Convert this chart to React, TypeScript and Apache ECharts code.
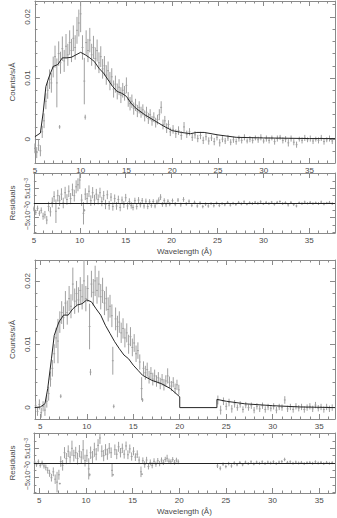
import React, { useEffect, useRef } from 'react';
import * as echarts from 'echarts';

// ---------- Panel 1 (upper spectrum) ----------
const wl1 = [5.0,5.2,5.4,5.6,5.8,6.0,6.2,6.4,6.6,6.8,7.0,7.2,7.4,7.6,7.7,7.8,8.0,8.2,8.4,8.6,8.8,9.0,9.2,9.4,9.6,9.8,10.0,10.2,10.4,10.5,10.6,10.8,11.0,11.2,11.4,11.6,11.8,12.0,12.2,12.4,12.6,12.8,13.0,13.2,13.4,13.6,13.8,14.0,14.2,14.4,14.6,14.8,15.0,15.2,15.4,15.6,15.8,16.0,16.2,16.4,16.6,16.8,17.0,17.2,17.4,17.6,17.8,18.0,18.2,18.4,18.6,18.8,19.0,19.2,19.4,19.6,19.8,
  20.1,20.4,20.7,21.0,21.3,21.6,21.9,22.2,22.5,22.8,23.1,23.4,23.7,24.0,24.3,24.6,24.9,25.2,25.5,25.8,26.1,26.4,26.7,27.0,27.3,27.6,27.9,28.2,28.5,28.8,29.1,29.4,29.7,30.0,30.3,30.6,30.9,31.2,31.5,31.8,32.1,32.4,32.7,33.0,33.3,33.6,33.9,34.2,34.5,34.8,35.1,35.4,35.7,36.0,36.3,36.6,36.9,37.2,37.5];
const counts1 = [-0.0015,-0.0022,-0.0010,-0.0019,0.0012,0.0030,0.0062,0.0080,0.0098,0.0092,0.0118,0.0135,0.0092,0.0140,
  0.0020,0.0125,
  0.0148,0.0128,0.0152,0.0138,0.0158,0.0145,0.0165,0.0150,0.0178,0.0190,0.0205,0.0150,0.0095,
  0.0036,
  0.0158,0.0145,0.0162,0.0138,0.0150,0.0132,0.0145,0.0125,0.0135,0.0115,
  0.0120,0.0105,0.0112,0.0095,0.0102,0.0082,0.0090,0.0078,0.0085,0.0072,
  0.0080,0.0075,0.0088,0.0065,0.0058,0.0062,0.0050,0.0056,0.0046,0.0052,
  0.0044,0.0048,0.0038,0.0044,0.0034,0.0040,0.0030,0.0036,0.0027,0.0032,
  0.0040,0.0052,0.0024,0.0030,0.0018,0.0024,0.0012,
  0.0016,0.0009,0.0014,0.0006,0.0020,0.0008,0.0012,0.0003,0.0007,0.0001,0.0006,-0.0002,0.0004,
  -0.0003,0.0002,-0.0004,0.0003,-0.0006,0.0000,-0.0003,0.0002,-0.0005,-0.0001,-0.0004,0.0001,-0.0002,
  0.0003,-0.0003,0.0000,-0.0002,0.0002,-0.0001,0.0003,-0.0003,0.0001,-0.0002,0.0002,-0.0004,0.0001,
  0.0003,-0.0002,0.0000,-0.0006,0.0001,-0.0005,-0.0009,0.0000,-0.0002,0.0002,-0.0001,0.0001,-0.0003,
  0.0000,-0.0002,0.0002,-0.0004,-0.0001,0.0001,-0.0003];
const err1 = [0.0008,0.0009,0.0009,0.0009,0.0010,0.0012,0.0013,0.0014,0.0016,0.0016,0.0017,0.0018,0.0040,0.0020,
  0.0003,0.0018,
  0.0020,0.0018,0.0020,0.0018,0.0020,0.0019,0.0021,0.0020,0.0022,0.0022,0.0030,0.0020,0.0038,
  0.0004,
  0.0020,0.0019,0.0020,0.0018,0.0019,0.0018,0.0018,0.0017,0.0017,0.0016,
  0.0016,0.0016,0.0015,0.0015,0.0014,0.0014,0.0014,0.0013,0.0013,0.0013,
  0.0012,0.0012,0.0013,0.0012,0.0011,0.0011,0.0010,0.0010,0.0010,0.0010,
  0.0009,0.0009,0.0009,0.0009,0.0009,0.0009,0.0008,0.0008,0.0008,0.0008,
  0.0009,0.0010,0.0008,0.0008,0.0008,0.0007,0.0007,
  0.0007,0.0007,0.0007,0.0007,0.0008,0.0006,0.0006,0.0006,0.0006,0.0006,0.0006,0.0006,0.0006,
  0.0006,0.0005,0.0006,0.0005,0.0006,0.0005,0.0005,0.0005,0.0005,0.0005,0.0005,0.0005,0.0005,
  0.0005,0.0004,0.0005,0.0005,0.0004,0.0005,0.0005,0.0004,0.0005,0.0005,0.0004,0.0005,0.0005,
  0.0004,0.0005,0.0005,0.0006,0.0005,0.0005,0.0005,0.0004,0.0005,0.0005,0.0004,0.0005,0.0005,
  0.0004,0.0005,0.0005,0.0005,0.0004,0.0005,0.0005];
const resid1 = [-0.0020,-0.0032,-0.0018,-0.0035,-0.0025,-0.0045,-0.0040,-0.0058,-0.0012,-0.0030,0.0002,0.0022,-0.0028,0.0025,
  -0.0018,0.0008,
  0.0030,0.0000,0.0035,0.0012,0.0040,0.0015,0.0045,0.0025,0.0055,0.0062,0.0078,0.0010,-0.0035,
  -0.0025,
  0.0030,0.0015,0.0040,0.0008,0.0035,0.0010,0.0030,0.0012,0.0035,0.0005,
  0.0025,-0.0005,0.0028,-0.0008,0.0020,-0.0012,0.0015,-0.0010,0.0012,-0.0015,
  0.0010,-0.0005,0.0018,-0.0010,0.0005,-0.0008,-0.0015,0.0008,-0.0012,0.0010,
  -0.0006,0.0008,-0.0010,0.0006,-0.0012,0.0004,-0.0008,0.0005,-0.0010,0.0003,
  0.0010,0.0020,-0.0005,0.0008,-0.0006,0.0006,-0.0004,
  0.0008,-0.0004,0.0010,-0.0006,0.0012,-0.0003,0.0006,-0.0008,0.0002,-0.0010,0.0000,-0.0012,-0.0004,
  -0.0010,-0.0002,-0.0009,0.0000,-0.0008,-0.0002,-0.0006,0.0002,-0.0007,-0.0001,-0.0005,0.0002,-0.0003,
  0.0004,-0.0004,0.0001,-0.0002,0.0003,-0.0001,0.0004,-0.0003,0.0002,-0.0002,0.0003,-0.0004,0.0002,
  0.0005,-0.0002,0.0001,-0.0006,0.0002,-0.0005,-0.0010,0.0001,-0.0002,0.0003,-0.0001,0.0002,-0.0002,
  0.0001,-0.0002,0.0003,-0.0003,0.0000,0.0002,-0.0002];
const modelWl1 = [5,5.6,5.9,6.2,6.5,7,7.5,8,8.5,9,9.5,10,10.5,11,11.5,12,12.5,13,13.5,14,14.5,15,15.5,16,17,18,19,20,21,22,22.7,23.5,25,27,30,35,37.8];
const model1 = [0.0004,0.001,0.0043,0.0086,0.01,0.0119,0.0122,0.0133,0.0133,0.0134,0.0138,0.0142,0.0138,0.0133,0.0127,0.0116,0.0108,0.0097,0.0086,0.0078,0.0075,0.007,0.0059,0.0051,0.004,0.0031,0.0022,0.0014,0.0011,0.0009,0.0011,0.0011,0.0007,0.0003,0.0002,0.0001,0.0001];

// ---------- Panel 2 (lower spectrum) ----------
const wl2 = [4.5,4.7,4.9,5.1,5.3,5.5,5.7,5.9,6.1,6.3,6.5,6.7,6.9,7.1,7.2,7.3,7.5,7.7,7.9,8.1,8.3,8.5,8.7,8.9,9.1,9.3,9.5,9.7,9.9,10.1,10.3,10.4,10.5,10.7,10.9,11.1,11.3,11.5,11.7,11.9,12.1,12.3,12.5,12.7,12.8,12.9,13.1,13.3,13.5,13.7,13.9,14.1,14.3,14.5,14.7,14.9,15.1,15.3,15.5,15.7,15.9,16.0,16.1,16.3,16.5,16.7,16.9,17.1,17.3,17.5,17.7,17.9,18.1,18.3,18.5,18.7,18.9,19.1,19.3,19.5,19.7,19.9,
  24.1,24.4,24.7,25.0,25.3,25.6,25.9,26.2,26.5,26.8,27.1,27.4,27.7,28.0,28.3,28.6,28.9,29.2,29.5,29.8,30.1,30.4,30.7,31.0,31.3,31.6,31.9,32.2,32.5,32.8,33.1,33.4,33.7,34.0,34.3,34.6,34.9,35.2,35.5,35.8,36.1,36.4];
const counts2 = [0.0003,-0.0006,0.0005,-0.0008,0.0002,-0.0004,0.0010,0.0022,0.0045,0.0062,0.0085,0.0110,0.0105,0.0135,
  0.0018,
  0.0150,0.0142,0.0165,0.0150,0.0172,0.0160,0.0195,0.0168,0.0180,0.0170,0.0185,0.0175,0.0200,0.0172,0.0188,0.0128,
  0.0056,
  0.0195,0.0182,0.0200,0.0185,0.0195,0.0175,0.0185,0.0165,0.0172,0.0155,0.0160,0.0145,
  0.0074,
  0.0002,0.0140,0.0128,0.0135,0.0118,0.0125,0.0110,0.0118,0.0100,0.0112,0.0095,0.0102,0.0085,0.0090,0.0072,0.0030,
  0.0012,
  0.0062,0.0055,0.0060,0.0048,0.0054,0.0045,0.0050,0.0042,0.0047,0.0038,0.0044,0.0036,0.0042,0.0050,0.0040,0.0034,0.0040,0.0030,0.0036,0.0028,
  0.0012,-0.0004,0.0010,0.0002,0.0008,-0.0002,0.0006,0.0000,0.0005,-0.0003,
  0.0004,0.0000,0.0003,-0.0004,0.0002,-0.0002,0.0003,-0.0003,0.0001,-0.0001,
  0.0002,-0.0004,0.0001,0.0000,0.0012,-0.0002,0.0001,-0.0003,0.0002,-0.0001,
  0.0001,-0.0003,0.0000,0.0002,-0.0002,0.0004,-0.0001,0.0001,-0.0003,0.0001,
  -0.0002,0.0000];
const err2 = [0.0007,0.0007,0.0008,0.0008,0.0008,0.0009,0.0010,0.0011,0.0012,0.0013,0.0015,0.0016,0.0035,0.0017,
  0.0003,
  0.0018,0.0018,0.0019,0.0019,0.0020,0.0019,0.0026,0.0020,0.0020,0.0020,0.0021,0.0020,0.0033,0.0020,0.0021,0.0036,
  0.0005,
  0.0021,0.0021,0.0024,0.0021,0.0021,0.0020,0.0020,0.0019,0.0019,0.0019,0.0018,0.0018,
  0.0022,
  0.0003,0.0018,0.0017,0.0017,0.0016,0.0016,0.0015,0.0015,0.0015,0.0015,0.0014,0.0014,0.0013,0.0013,0.0012,0.0018,
  0.0003,
  0.0011,0.0011,0.0011,0.0010,0.0010,0.0010,0.0010,0.0009,0.0009,0.0009,0.0009,0.0009,0.0009,0.0012,0.0009,0.0008,0.0008,0.0008,0.0008,0.0008,
  0.0007,0.0007,0.0006,0.0006,0.0006,0.0006,0.0006,0.0005,0.0005,0.0005,
  0.0005,0.0005,0.0005,0.0005,0.0005,0.0005,0.0005,0.0005,0.0005,0.0005,
  0.0005,0.0005,0.0005,0.0005,0.0006,0.0005,0.0005,0.0005,0.0005,0.0005,
  0.0005,0.0005,0.0005,0.0005,0.0005,0.0005,0.0005,0.0005,0.0005,0.0005,
  0.0005,0.0005];
const resid2 = [0.0003,-0.0006,0.0004,-0.0008,0.0000,-0.0010,-0.0015,-0.0025,-0.0035,-0.0050,-0.0030,-0.0055,-0.0065,-0.0040,
  -0.0070,
  0.0005,-0.0008,0.0035,0.0015,0.0040,0.0020,0.0050,0.0025,0.0035,0.0015,0.0040,0.0020,0.0045,0.0008,0.0025,-0.0020,
  -0.0040,
  0.0035,0.0020,0.0045,0.0030,0.0060,0.0085,0.0040,0.0025,0.0045,0.0030,0.0050,0.0035,
  -0.0025,
  -0.0040,0.0045,0.0030,0.0055,0.0035,0.0050,0.0030,0.0058,0.0028,0.0048,0.0022,0.0040,0.0020,0.0030,0.0010,-0.0030,
  -0.0038,
  0.0008,-0.0005,0.0010,-0.0012,0.0002,-0.0008,0.0006,-0.0004,0.0008,-0.0002,0.0010,0.0002,0.0012,0.0016,0.0006,0.0004,0.0012,0.0002,0.0010,0.0004,
  -0.0010,-0.0018,-0.0004,-0.0012,-0.0002,-0.0010,0.0000,-0.0006,0.0002,-0.0006,
  0.0003,-0.0002,0.0004,-0.0003,0.0003,-0.0001,0.0004,-0.0002,0.0003,0.0000,
  0.0004,-0.0002,0.0003,0.0005,0.0012,0.0002,0.0004,-0.0001,0.0003,0.0000,
  0.0002,-0.0002,0.0001,0.0002,-0.0001,0.0004,0.0000,0.0002,-0.0002,0.0002,
  -0.0001,0.0001];
const modelWl2 = [4.4,5,5.5,5.8,6.2,6.5,7,7.5,8,8.5,9,9.5,10,10.5,11,11.5,12,12.5,13,13.5,14,14.5,15,15.5,16,17,18,19,20,20,24,24,25,27,30,33,36.7];
const model2 = [0,0.0001,0.0006,0.003,0.0077,0.0114,0.0135,0.0146,0.0146,0.0156,0.0162,0.0164,0.017,0.0167,0.0156,0.0146,0.013,0.0117,0.0104,0.0093,0.0083,0.0077,0.0067,0.0059,0.0051,0.0043,0.0038,0.003,0.0017,0,0,0.0013,0.001,0.0006,0.0003,0.0001,0];

// ---------- tick values ----------
const xMajor = [5, 10, 15, 20, 25, 30, 35];
const xMinor = [6,7,8,9,11,12,13,14,16,17,18,19,21,22,23,24,26,27,28,29,31,32,33,34,36,37];
const yMainMajor = [0, 0.01, 0.02];
const yMainMinor = [-0.002, 0.002, 0.004, 0.006, 0.008, 0.012, 0.014, 0.016, 0.018, 0.022];
const yResMajor = [-0.005, 0, 0.005];
const yResMinor = [-0.01, -0.0075, -0.0025, 0.0025, 0.0075, 0.01];

const AX = '#8a8a8a';
const GREY = '#a0a0a0';
const TXT = '#4a4a4a';
const FONT = 'Liberation Sans';

const grids = [
  { left: 22, top: 1, width: 313, height: 162 },
  { left: 22, top: 173, width: 313, height: 60 },
  { left: 22, top: 260, width: 313, height: 159 },
  { left: 22, top: 433, width: 313, height: 60 },
];

function inRange(vals: number[], min: number, max: number) {
  return vals.filter((v) => v >= min && v <= max);
}

function xAxesFor(g: number, min: number, max: number, name?: string) {
  const common = { type: 'value', gridIndex: g, min, max, splitLine: { show: false } };
  const major = inRange(xMajor, min, max);
  const minor = inRange(xMinor, min, max);
  const lineOn = { show: true, onZero: false, lineStyle: { color: AX, width: 1 } };
  const lineOff = { show: false, onZero: false };
  const tickMaj = { show: true, inside: true, length: 5, customValues: major, lineStyle: { color: AX } };
  const tickMin = { show: true, inside: true, length: 2.5, customValues: minor, lineStyle: { color: AX } };
  return [
    {
      ...common, position: 'bottom', axisLine: lineOn, axisTick: tickMaj,
      axisLabel: { show: true, customValues: major, margin: 3, fontSize: 8, color: TXT, fontFamily: FONT },
      name: name || '', nameLocation: 'middle', nameGap: 14,
      nameTextStyle: { fontSize: 8, color: TXT, fontFamily: FONT },
    },
    { ...common, position: 'bottom', axisLine: lineOff, axisTick: tickMin, axisLabel: { show: false } },
    { ...common, position: 'top', axisLine: lineOn, axisTick: tickMaj, axisLabel: { show: false } },
    { ...common, position: 'top', axisLine: lineOff, axisTick: tickMin, axisLabel: { show: false } },
  ];
}

function yAxesFor(g: number, min: number, max: number, residual: boolean, name: string) {
  const common = { type: 'value', gridIndex: g, min, max, splitLine: { show: false } };
  const major = inRange(residual ? yResMajor : yMainMajor, min, max);
  const minor = inRange(residual ? yResMinor : yMainMinor, min, max);
  const lineOn = { show: true, onZero: false, lineStyle: { color: AX, width: 1 } };
  const lineOff = { show: false, onZero: false };
  const tickMaj = { show: true, inside: true, length: 5, customValues: major, lineStyle: { color: AX } };
  const tickMin = { show: true, inside: true, length: 2.5, customValues: minor, lineStyle: { color: AX } };
  const formatter = residual
    ? (v: number) => (Math.abs(v) < 1e-9 ? '0' : (v < 0 ? '\u22125x10' : '5x10') + '{s|\u22123}')
    : (v: number) => (Math.abs(v) < 1e-9 ? '0' : String(Number(v.toFixed(2))));
  return [
    {
      ...common, position: 'left', axisLine: lineOn, axisTick: tickMaj,
      axisLabel: {
        show: true, customValues: major, rotate: 90, margin: 3, fontSize: residual ? 7 : 8,
        color: TXT, fontFamily: FONT, formatter,
        rich: { s: { fontSize: 5, verticalAlign: 'top', color: TXT, fontFamily: FONT, lineHeight: 6 } },
      },
      name, nameLocation: 'middle', nameGap: 12, nameRotate: 90,
      nameTextStyle: { fontSize: 8, color: TXT, fontFamily: FONT },
    },
    { ...common, position: 'left', axisLine: lineOff, axisTick: tickMin, axisLabel: { show: false } },
    { ...common, position: 'right', axisLine: lineOn, axisTick: tickMaj, axisLabel: { show: false } },
    { ...common, position: 'right', axisLine: lineOff, axisTick: tickMin, axisLabel: { show: false } },
  ];
}

function zip3(x: number[], y: number[], e: number[]) {
  return x.map((v, i) => [v, y[i], e[i]]);
}
function zip2(x: number[], y: number[]) {
  return x.map((v, i) => [v, y[i]]);
}

function errSeries(g: number, data: number[][], zeroLine: boolean) {
  const s: any = {
    type: 'custom',
    xAxisIndex: g * 4,
    yAxisIndex: g * 4,
    clip: true,
    silent: true,
    data,
    encode: { x: 0, y: 1 },
    z: 2,
    renderItem: (params: any, api: any) => {
      const x = api.value(0);
      const y = api.value(1);
      const e = api.value(2);
      const lo = api.coord([x, y - e]);
      const hi = api.coord([x, y + e]);
      const c = api.coord([x, y]);
      const hw = api.size([0.1, 0])[0];
      const style = { stroke: GREY, lineWidth: 1, fill: null };
      return {
        type: 'group',
        children: [
          { type: 'line', shape: { x1: lo[0], y1: lo[1], x2: hi[0], y2: hi[1] }, style },
          { type: 'line', shape: { x1: c[0] - hw, y1: c[1], x2: c[0] + hw, y2: c[1] }, style },
        ],
      };
    },
  };
  if (zeroLine) {
    s.markLine = {
      silent: true,
      symbol: ['none', 'none'],
      label: { show: false },
      lineStyle: { color: '#222', width: 1, type: 'solid' },
      data: [{ yAxis: 0 }],
      z: 5,
    };
  }
  return s;
}

function modelSeries(g: number, data: number[][]) {
  return {
    type: 'line',
    xAxisIndex: g * 4,
    yAxisIndex: g * 4,
    data,
    showSymbol: false,
    symbol: 'none',
    clip: true,
    silent: true,
    z: 4,
    lineStyle: { color: '#262626', width: 1 },
  };
}

const X1 = [5, 37.8];
const X2 = [4.42, 36.7];

const option: any = {
  animation: false,
  backgroundColor: '#ffffff',
  grid: grids,
  xAxis: [
    ...xAxesFor(0, X1[0], X1[1]),
    ...xAxesFor(1, X1[0], X1[1], 'Wavelength (\u00c5)'),
    ...xAxesFor(2, X2[0], X2[1]),
    ...xAxesFor(3, X2[0], X2[1], 'Wavelength (\u00c5)'),
  ],
  yAxis: [
    ...yAxesFor(0, -0.0039, 0.0226, false, 'Counts/s/\u00c5'),
    ...yAxesFor(1, -0.0102, 0.0102, true, 'Residuals'),
    ...yAxesFor(2, -0.0018, 0.0233, false, 'Counts/s/\u00c5'),
    ...yAxesFor(3, -0.0102, 0.0102, true, 'Residuals'),
  ],
  series: [
    errSeries(0, zip3(wl1, counts1, err1), false),
    modelSeries(0, zip2(modelWl1, model1)),
    errSeries(1, zip3(wl1, resid1, err1), true),
    errSeries(2, zip3(wl2, counts2, err2), false),
    modelSeries(2, zip2(modelWl2, model2)),
    errSeries(3, zip3(wl2, resid2, err2), true),
  ],
};

export default function App() {
  const ref = useRef<HTMLDivElement>(null);
  useEffect(() => {
    if (!ref.current) return;
    const chart = echarts.init(ref.current, null, { renderer: 'svg' });
    chart.setOption(option);
    return () => chart.dispose();
  }, []);
  return (
    <div
      ref={ref}
      style={{ position: 'absolute', left: 0, top: 0, width: 337, height: 518, background: '#fff' }}
    />
  );
}
